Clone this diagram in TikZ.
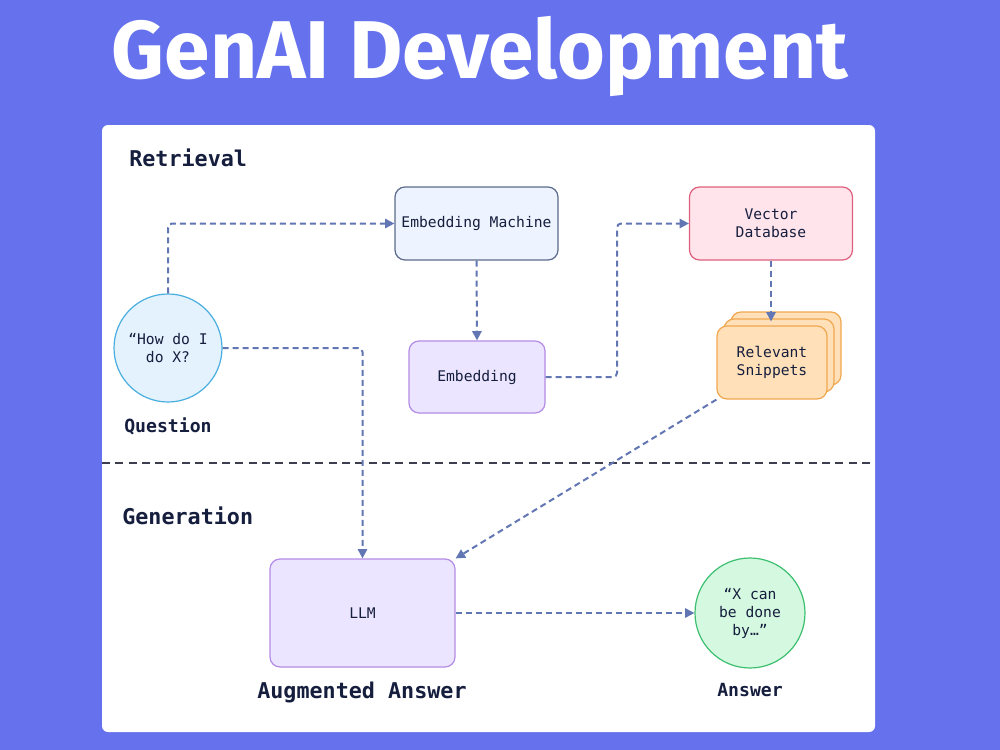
\documentclass[tikz,border=0pt]{standalone}
\usepackage{fontspec}
\usepackage{graphicx}
\setmainfont{Fira Sans}
\newfontfamily\monof{DejaVu Sans Mono}
\usetikzlibrary{arrows.meta,calc}
\definecolor{bgc}{RGB}{101,113,237}
\definecolor{txt}{RGB}{22,30,62}
\definecolor{arrc}{RGB}{98,118,180}
\definecolor{divc}{RGB}{60,62,80}
\definecolor{emfill}{RGB}{238,244,255}
\definecolor{emdraw}{RGB}{92,106,140}
\definecolor{vdfill}{RGB}{255,228,236}
\definecolor{vddraw}{RGB}{222,96,124}
\definecolor{pufill}{RGB}{236,229,255}
\definecolor{pudraw}{RGB}{180,140,230}
\definecolor{snfill}{RGB}{255,224,184}
\definecolor{sndraw}{RGB}{240,168,80}
\definecolor{qfill}{RGB}{227,242,253}
\definecolor{qdraw}{RGB}{74,174,224}
\definecolor{afill}{RGB}{213,248,224}
\definecolor{adraw}{RGB}{60,192,112}
\tikzset{
  boxtext/.style={font=\monof\fontsize{11}{13.5}\selectfont, text=txt, align=center, inner sep=0pt},
  rbox/.style={boxtext, rounded corners=7.5pt, line width=0.9pt},
  heading/.style={font=\monof\bfseries\fontsize{16.3}{18}\selectfont, text=txt, inner sep=0pt},
  sublabel/.style={font=\monof\bfseries\fontsize{13.6}{16}\selectfont, text=txt, inner sep=0pt},
  arr/.style={draw=arrc, line width=1.5pt, dash pattern=on 4.5pt off 3pt, rounded corners=3pt, -{Triangle[length=7pt,width=7pt]}},
}
\begin{document}
\begin{tikzpicture}[x=0.75pt,y=-0.75pt]
\useasboundingbox (0,0) rectangle (1000,750);
\fill[bgc] (0,0) rectangle (1000,750);
\fill[white, rounded corners=4.5pt] (102,125) rectangle (875,732);
% title
\node[anchor=base, text=white, inner sep=0pt] (title) at (480,78)
  {\resizebox{552pt}{!}{\bfseries\fontsize{60}{60}\selectfont GenAI Development}};
% headings
\node[heading, anchor=base west] (hret) at (129,166) {Retrieval};
\node[heading, anchor=base west] (hgen) at (122,524) {Generation};
% divider
\draw[divc, line width=1.2pt, dash pattern=on 6pt off 4pt] (102,463) -- (875,463);
% nodes
\node[rbox, draw=emdraw, fill=emfill, minimum width=122.25pt, minimum height=54.75pt] (em) at (476.5,223.5) {Embedding Machine};
\node[rbox, draw=vddraw, fill=vdfill, minimum width=122.25pt, minimum height=54.75pt] (vd) at (771,223.5) {Vector\\Database};
\node[rbox, draw=pudraw, fill=pufill, minimum width=102pt, minimum height=54pt] (emb) at (477,377) {Embedding};
\node[rbox, draw=sndraw, fill=snfill, minimum width=82.5pt, minimum height=54.75pt] (sn3) at (786,348.5) {};
\node[rbox, draw=sndraw, fill=snfill, minimum width=82.5pt, minimum height=54.75pt] (sn2) at (779,355.5) {};
\node[rbox, draw=sndraw, fill=snfill, minimum width=82.5pt, minimum height=54.75pt] (sn) at (772,362.5) {Relevant\\Snippets};
\node[boxtext, circle, draw=qdraw, fill=qfill, line width=0.9pt, minimum size=81pt] (q) at (168,348) {“How do I\\do X?};
\node[sublabel] (qlab) at (168,426) {Question};
\node[rbox, draw=pudraw, fill=pufill, minimum width=138.75pt, minimum height=81pt] (llm) at (362.5,613) {LLM};
\node[sublabel, font=\monof\bfseries\fontsize{16.3}{18}\selectfont] (llmlab) at (362,692) {Augmented Answer};
\node[boxtext, circle, draw=adraw, fill=afill, line width=0.9pt, minimum size=82.5pt] (ans) at (750,613) {“X can\\be done\\by…”};
\node[sublabel] (anslab) at (750,690) {Answer};
% connectors
\draw[arr] (q.north) |- (em.west);
\draw[arr] (em.south) -- (emb.north);
\draw[arr] (emb.east) -- (617,377) |- (vd.west);
\draw[arr, shorten >=3pt] (vd.south) -- (vd.south |- sn.north);
\draw[arr] (q.east) -| (llm.north);
\draw[arr] (sn.south west) -- (llm.north east);
\draw[arr] (llm.east) -- (ans.west);
\end{tikzpicture}
\end{document}
